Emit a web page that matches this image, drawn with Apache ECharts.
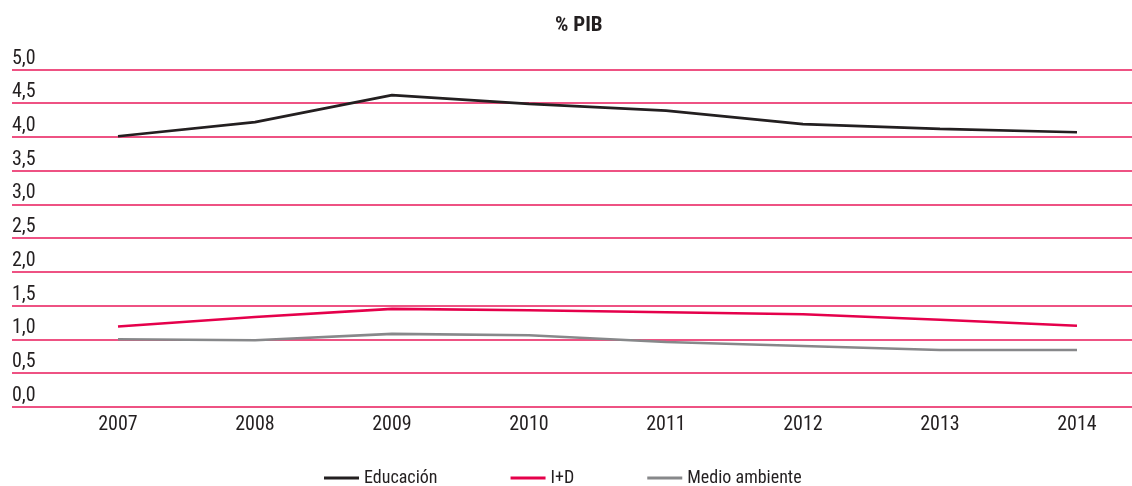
<!DOCTYPE html>
<html>
<head>
<meta charset="utf-8">
<script src="https://cdn.jsdelivr.net/npm/echarts@6/dist/echarts.min.js"></script>
<style>
html,body{margin:0;padding:0;background:#fff;}
#chart{width:1132px;height:486px;}
</style>
</head>
<body>
<div id="chart"></div>
<script>
// datos % PIB
var years = [2007, 2008, 2009, 2010, 2011, 2012, 2013, 2014];
var educacion = [4.01, 4.22, 4.62, 4.49, 4.39, 4.19, 4.12, 4.07];
var iD = [1.19, 1.33, 1.45, 1.43, 1.40, 1.37, 1.29, 1.20];
var medioAmbiente = [1.00, 0.985, 1.08, 1.06, 0.96, 0.90, 0.84, 0.84];
var seriesNames = ['Educación', 'I+D', 'Medio ambiente'];
var seriesColors = ['#231f20', '#e5004b', '#87888a'];

var FONT = "'Roboto Condensed', sans-serif";

function pairs(vals) {
    var out = [];
    for (var i = 0; i < years.length; i++) {
        out.push([years[i], vals[i]]);
    }
    return out;
}

var allData = [educacion, iD, medioAmbiente];
var series = [];
for (var s = 0; s < seriesNames.length; s++) {
    series.push({
        name: seriesNames[s],
        type: 'line',
        data: pairs(allData[s]),
        symbol: 'none',
        lineStyle: {width: 2.6, color: seriesColors[s]},
        itemStyle: {color: seriesColors[s]}
    });
}

var myChart = echarts.init(document.getElementById('chart'));
var option = {
    animation: false,
    textStyle: {fontFamily: FONT},
    title: {
        text: '% PIB',
        left: 550,
        top: 10,
        textStyle: {fontFamily: FONT, fontSize: 21, fontWeight: 'bold', color: '#231f20'}
    },
    legend: {
        left: 319,
        top: 464,
        itemGap: 73,
        itemWidth: 35,
        itemHeight: 3,
        icon: 'rect',
        data: seriesNames,
        textStyle: {fontFamily: FONT, fontSize: 18, color: '#231f20'}
    },
    grid: {
        left: 12,
        right: 0,
        top: 69.5,
        bottom: 79.3,
        containLabel: false
    },
    xAxis: {
        type: 'value',
        min: 2006.2263,
        max: 2014.4015,
        axisLine: {show: false},
        axisTick: {show: false},
        splitLine: {show: false},
        axisLabel: {
            customValues: years,
            formatter: function (v) { return String(v); },
            fontFamily: FONT,
            fontSize: 20,
            color: '#231f20',
            margin: 8
        }
    },
    yAxis: {
        type: 'value',
        min: 0,
        max: 5,
        interval: 0.5,
        axisLine: {show: false},
        axisTick: {show: false},
        splitLine: {show: true, lineStyle: {color: '#e8185a', width: 1.6}},
        axisLabel: {
            inside: true,
            margin: 0,
            align: 'left',
            verticalAlign: 'bottom',
            padding: [0, 0, 1, 0],
            fontFamily: FONT,
            fontSize: 20,
            color: '#231f20',
            formatter: function (v) { return v.toFixed(1).replace('.', ','); }
        }
    },
    series: series
};
myChart.setOption(option);
</script>
</body>
</html>
